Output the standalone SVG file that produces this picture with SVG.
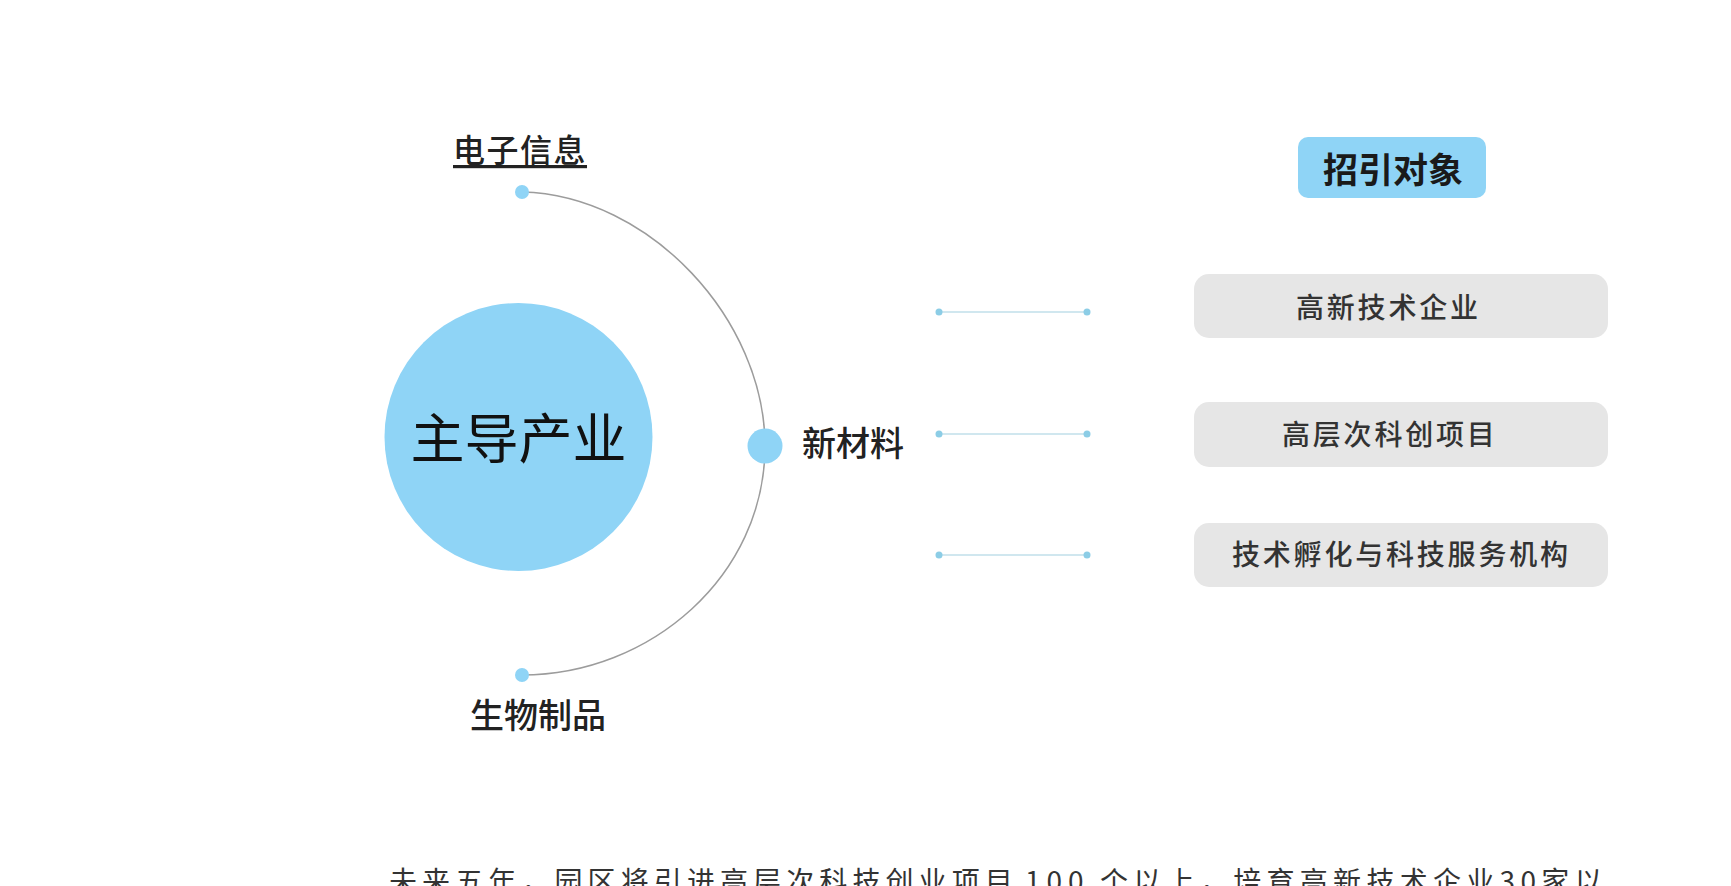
<svg xmlns="http://www.w3.org/2000/svg" width="1731" height="886" viewBox="0 0 1731 886">
  <style>
    text { font-family: "Noto Sans CJK SC", "Noto Sans", sans-serif; dominant-baseline: central; }
    .lbl { font-size: 34px; fill: #222; font-weight: 500; }
    .box { fill: #e6e6e6; }
    .boxtxt { font-size: 28px; fill: #333; letter-spacing: 2.8px; font-weight: 500; }
    .blue { fill: #8fd4f6; }
    .dot { fill: #8ccde6; }
    .conn { stroke: #c0dfea; stroke-width: 1.5; fill: none; }
    .arc { stroke: #9c9c9c; stroke-width: 1.5; fill: none; }
    .para { font-size: 28px; fill: #333; letter-spacing: 5.1px; }
  </style>

  <g id="connectors">
    <path class="arc" d="M522,192 C650,195 765,320 765,446 C765,576 650,675 522,675"/>
    <line class="conn" x1="939" y1="312" x2="1087" y2="312"/>
    <line class="conn" x1="939" y1="434" x2="1087" y2="434"/>
    <line class="conn" x1="939" y1="555" x2="1087" y2="555"/>
    <circle class="dot" cx="939" cy="312" r="3.5"/>
    <circle class="dot" cx="1087" cy="312" r="3.5"/>
    <circle class="dot" cx="939" cy="434" r="3.5"/>
    <circle class="dot" cx="1087" cy="434" r="3.5"/>
    <circle class="dot" cx="939" cy="555" r="3.5"/>
    <circle class="dot" cx="1087" cy="555" r="3.5"/>
  </g>

  <g id="node-main">
    <circle class="blue" cx="518.5" cy="437" r="134"/>
    <text x="518.5" y="435" text-anchor="middle" font-size="54" fill="#111">主导产业</text>
  </g>

  <g id="node-dianzi">
    <circle class="blue" cx="522" cy="192" r="7"/>
    <text class="lbl" x="453" y="148" style="font-size:32px;letter-spacing:1.5px;text-decoration:underline;">电子信息</text>
  </g>

  <g id="node-xincailiao">
    <circle class="blue" cx="765" cy="446" r="17.5"/>
    <text class="lbl" x="802" y="441">新材料</text>
  </g>

  <g id="node-shengwu">
    <circle class="blue" cx="522" cy="675" r="7"/>
    <text class="lbl" x="470" y="713">生物制品</text>
  </g>

  <g id="node-title">
    <rect class="blue" x="1298" y="137" width="188" height="61" rx="10"/>
    <text x="1393" y="167" text-anchor="middle" font-size="35" font-weight="bold" fill="#1a1a1a">招引对象</text>
  </g>

  <g id="node-gaoxin">
    <rect class="box" x="1194" y="274" width="414" height="64" rx="15"/>
    <text class="boxtxt" x="1296" y="305.5">高新技术企业</text>
  </g>

  <g id="node-gaoceng">
    <rect class="box" x="1194" y="402" width="414" height="65" rx="15"/>
    <text class="boxtxt" x="1282" y="433">高层次科创项目</text>
  </g>

  <g id="node-fuhua">
    <rect class="box" x="1194" y="523" width="414" height="64" rx="15"/>
    <text class="boxtxt" x="1232" y="553">技术孵化与科技服务机构</text>
  </g>

  <text class="para" x="389" y="880">未来五年，园区将引进高层次科技创业项目<tspan x="1025" style="letter-spacing:6px">100</tspan><tspan x="1100" style="letter-spacing:5.3px">个以上，培育高新技术企业30家以</tspan></text>
</svg>
